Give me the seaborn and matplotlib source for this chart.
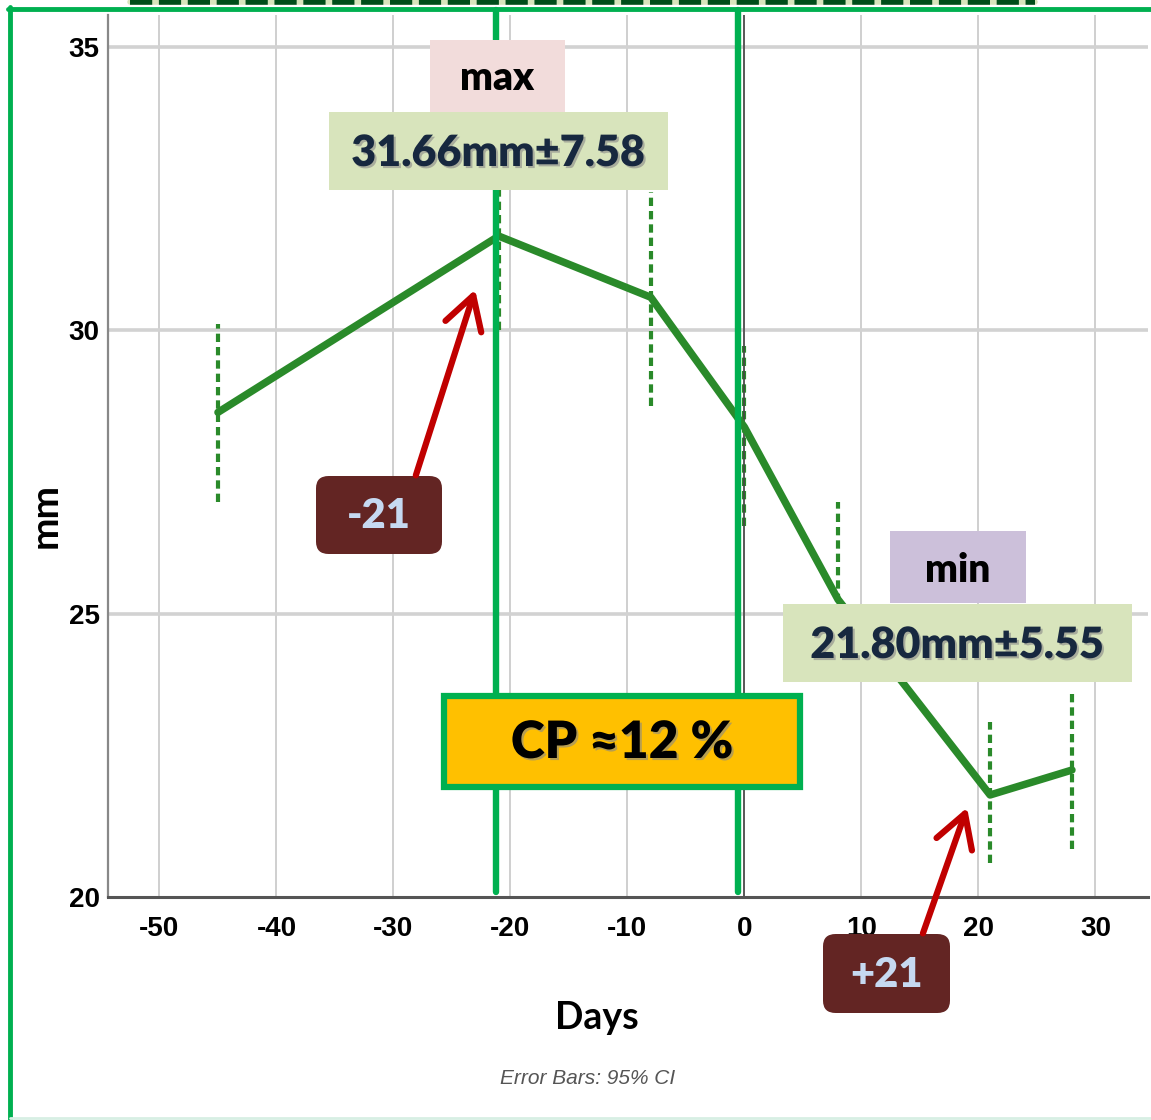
import matplotlib
matplotlib.use("Agg")
import matplotlib.pyplot as plt
import matplotlib.patheffects as pe
from matplotlib.patches import Rectangle, FancyBboxPatch, FancyArrowPatch
import seaborn as sns
import pandas as pd

# ---- data ----
days = [-45, -21, -8, 0, 8, 21, 28]
mean_mm = [28.55, 31.66, 30.58, 28.29, 25.25, 21.80, 22.24]
ci_low = [26.97, 30.00, 28.66, 26.54, 23.79, 20.60, 20.85]
ci_high = [30.10, 33.30, 32.43, 29.72, 26.97, 23.08, 23.61]
x_ticks = [-50, -40, -30, -20, -10, 0, 10, 20, 30]
y_ticks = [20, 25, 30, 35]
marker_days = [-21.2, -0.55]
max_label = "max"
max_value = "31.66mm\u00b17.58"
min_label = "min"
min_value = "21.80mm\u00b15.55"
cp_label = "CP \u224812 %"
before_label = "-21"
after_label = "+21"

W, H = 1151, 1120
sns.set_theme(style="white")
plt.rcParams['font.family'] = ['Lato', 'DejaVu Sans']

fig = plt.figure(figsize=(W / 100, H / 100), dpi=100)
fig.patch.set_facecolor("white")

def fx(x):
    return x / W

def fy(y):
    return 1 - y / H

ax = fig.add_axes([fx(108), fy(897), fx(1148) - fx(108), fy(15) - fy(897)])
ax.set_facecolor("white")

df = pd.DataFrame({"Days": days, "mm": mean_mm})

# grid
for xt in x_ticks:
    ax.axvline(xt, color="#cccccc", lw=1.3, zorder=0)
for yt in y_ticks[1:]:
    ax.axhline(yt, color="#d2d2d2", lw=2.6, zorder=0)

# error bars
ax.vlines(days, ci_low, ci_high, colors="#2a8a2a", linestyles=(0, (2.0, 1.2)), lw=3.0, zorder=2)
# main line
sns.lineplot(data=df, x="Days", y="mm", color="#2a8a2a", lw=5.4, ax=ax, zorder=3)

# reference line at 0
ax.axvline(0, color="#444444", lw=1.2, zorder=2)
# bright green marker lines
for md in marker_days:
    ax.axvline(md, ymin=0.006, ymax=1.006, color="#00b050", lw=4.6, zorder=4, clip_on=False)

ax.set_xlim(-54.4, 34.5)
ax.set_ylim(20, 35.56)
ax.set_xticks(x_ticks)
ax.set_yticks(y_ticks)
tick_font = dict(family=['Liberation Sans Narrow', 'Liberation Sans', 'DejaVu Sans'], size=20, weight='bold')
ax.set_xticklabels([str(t) for t in x_ticks], fontdict=tick_font)
ax.set_yticklabels([str(t) for t in y_ticks], fontdict=tick_font)
ax.tick_params(axis='x', length=0, pad=14, colors="black")
ax.tick_params(axis='y', length=0, pad=6, colors="black")
for s in ["top", "right"]:
    ax.spines[s].set_visible(False)
ax.spines["left"].set_color("#888888")
ax.spines["left"].set_linewidth(1.6)
ax.spines["bottom"].set_color("#555555")
ax.spines["bottom"].set_linewidth(2.2)
ax.set_xlabel("")
ax.set_ylabel("")

# axis titles
fig.text(fx(597), fy(1018), "Days", ha="center", va="center", fontsize=27, weight="bold", color="black")
fig.text(fx(45), fy(515), "mm", ha="center", va="center", rotation=90, fontsize=28, weight="bold", color="black")
fig.text(fx(588), fy(1078), "Error Bars: 95% CI", ha="center", va="center", fontsize=15,
         style="italic", color="#555555", family=['Liberation Sans Narrow', 'Liberation Sans', 'DejaVu Sans'])

shadow = [pe.withSimplePatchShadow(offset=(1.5, -1.5), shadow_rgbFace="#888888", alpha=0.6)]

def box(x0, y0, x1, y1, face, edge="none", lw=0, rounded=False, z=6):
    if rounded:
        p = FancyBboxPatch((fx(x0), fy(y1)), fx(x1) - fx(x0), fy(y0) - fy(y1),
                           boxstyle="round,pad=0,rounding_size=0.011",
                           transform=fig.transFigure, facecolor=face, edgecolor=edge, lw=lw, zorder=z)
    else:
        p = Rectangle((fx(x0), fy(y1)), fx(x1) - fx(x0), fy(y0) - fy(y1),
                      transform=fig.transFigure, facecolor=face, edgecolor=edge, lw=lw, zorder=z)
    fig.add_artist(p)

def label(x, y, s, size, color, effects=None, weight="heavy"):
    t = fig.text(fx(x), fy(y), s, ha="center", va="center", fontsize=size, weight=weight, color=color, zorder=8)
    if effects:
        t.set_path_effects(effects)
    return t

# max annotation
box(430, 40, 565, 112, "#f2dcdb")
label(497, 79, max_label, 28, "black")
box(329, 112, 668, 190, "#d8e4bc")
label(498, 153, max_value, 31, "#17283f", shadow)

# min annotation
box(890, 531, 1026, 603, "#ccc0da")
label(958, 570, min_label, 28, "black")
box(783, 604, 1132, 682, "#d8e4bc")
label(957, 645, min_value, 31, "#17283f", shadow)

# CP box
box(444, 696, 800, 787, "#ffc000", edge="#00b050", lw=4.5)
label(622, 743, cp_label, 37, "black", shadow)

# arrows
for (x0, y0), (x1, y1) in [((415, 478), (476, 287)), ((922, 936), (968, 805))]:
    a = FancyArrowPatch((fx(x0), fy(y0)), (fx(x1), fy(y1)), transform=fig.transFigure,
                        arrowstyle="->,head_length=1.3,head_width=0.75", mutation_scale=18,
                        color="#c00000", lw=4.5, capstyle="round", joinstyle="round", zorder=7)
    fig.add_artist(a)

# day boxes
box(316, 476, 442, 554, "#632523", rounded=True)
label(379, 516, before_label, 30, "#c6d9f1")
box(823, 934, 950, 1013, "#632523", rounded=True)
label(886, 975, after_label, 30, "#c6d9f1")

# frame
fig.add_artist(Rectangle((fx(0), fy(5)), fx(1151), fy(0) - fy(5), transform=fig.transFigure,
                         facecolor="white", edgecolor="none", zorder=9))
fig.add_artist(plt.Line2D([fx(130), fx(1035)], [fy(2), fy(2)], transform=fig.transFigure,
                          color="#d8e4bc", lw=4, zorder=9))
fig.add_artist(plt.Line2D([fx(130), fx(1035)], [fy(2), fy(2)], transform=fig.transFigure,
                          color="#004d1a", lw=4, linestyle=(0, (4, 1.2)), zorder=10))
fig.add_artist(plt.Line2D([fx(8), fx(1151)], [fy(9), fy(9)], transform=fig.transFigure,
                          color="#00b050", lw=3.5, zorder=10))
fig.add_artist(plt.Line2D([fx(10), fx(10)], [fy(7), fy(1120)], transform=fig.transFigure,
                          color="#00b050", lw=3.5, zorder=10))
fig.add_artist(plt.Line2D([fx(10), fx(1151)], [fy(1118), fy(1118)], transform=fig.transFigure,
                          color="#d7efe4", lw=2, zorder=10))

fig.savefig("out.png", dpi=100, facecolor="white")
